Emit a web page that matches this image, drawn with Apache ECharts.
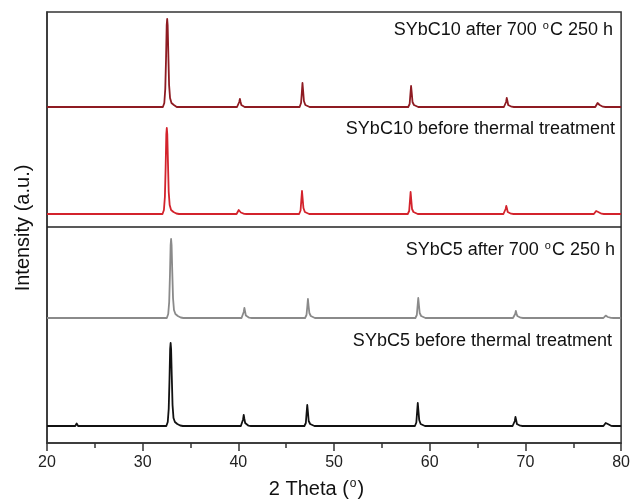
<!DOCTYPE html>
<html>
<head>
<meta charset="utf-8">
<script src="https://cdn.jsdelivr.net/npm/echarts@6/dist/echarts.min.js"></script>
<style>html,body{margin:0;padding:0;background:#fff}#c{width:633px;height:502px}</style>
</head>
<body>
<div id="c"></div>
<script>
// 2 Theta (deg) vs stacked intensity (a.u., offset included)
var xTicks = [20, 30, 40, 50, 60, 70, 80];
var seriesNames = ['SYbC10 after 700 °C 250 h', 'SYbC10 before thermal treatment', 'SYbC5 after 700 °C 250 h', 'SYbC5 before thermal treatment'];
var separatorLevel = 216;

var sybc10After = [[20,336],[21,336],[22.85,336],[23.0,337.5],[23.15,336],[23.4,336],[28,336],[31.8,336],
  [32.11,336],[32.26,340],[32.36,354],[32.44,384],[32.51,418],[32.56,424],[32.61,418],[32.68,389],[32.76,358],[32.86,345],[33.01,340],[33.26,338],[33.56,336],[33.8,336],[34.1,336],
  [34.5,336],[34.65,337],[34.8,336],[35.0,336],[35.3,336],[37,336],[39.6,336],
  [39.86,336],[40.01,337],[40.09,341],[40.16,344],[40.23,341],[40.31,338],[40.46,336.5],[40.66,336],[40.9,336],[41.2,336],[43,336],[46.1,336],
  [46.4,336],[46.55,340],[46.63,350],[46.7,360],[46.77,352],[46.85,342],[47.0,338],[47.2,336.5],[47.45,336],[47.7,336],[48.1,336],[50,336],[53,336],[57.5,336],
  [57.75,336],[57.9,339],[57.98,349],[58.05,357],[58.12,350],[58.2,341],[58.35,338],[58.55,336.5],[58.8,336],[59.1,336],[59.5,336],[63,336],[67.5,336],
  [67.75,336],[67.9,337.5],[67.98,341],[68.05,345],[68.12,342],[68.2,338],[68.35,337],[68.55,336.3],[68.8,336],[69.1,336],[69.5,336],[73,336],[77.0,336],
  [77.3,336],[77.45,337.5],[77.54,340],[77.6,342],[77.67,340.5],[77.76,338],[77.9,336.8],[78.1,336.3],[78.35,336],[78.7,336],[79.2,336],[80,336]];

var sybc10Before = [[20,229],[21,229],[22.85,229],[23.0,230.5],[23.15,229],[23.4,229],[28,229],[31.8,229],
  [32.07,229],[32.22,233],[32.32,246],[32.4,276],[32.47,309],[32.52,315],[32.57,309],[32.64,281],[32.72,251],[32.82,238],[32.97,233],[33.22,231],[33.52,229.5],[33.8,229],[34.1,229],[34.5,229],[37,229],[39.5,229],
  [39.81,229],[39.96,230],[40.04,233],[40.11,235],[40.18,233],[40.26,230.5],[40.41,229.5],[40.61,229.2],[40.85,229],[41.15,229],[41.6,229],[43,229],[46.05,229],
  [46.35,229],[46.5,232.5],[46.58,243],[46.65,252],[46.72,244],[46.8,235],[46.95,231],[47.15,229.5],[47.4,229],[47.65,229],[48.1,229],[50,229],[53,229],[57.4,229],
  [57.7,229],[57.85,232],[57.93,242],[58.0,251],[58.07,243],[58.15,234],[58.3,231],[58.5,229.5],[58.75,229],[59.05,229],[59.5,229],[63,229],[67.4,229],
  [67.7,229],[67.85,230.5],[67.93,234],[68.0,237],[68.07,234.5],[68.15,231],[68.3,230],[68.5,229.3],[68.75,229],[69.05,229],[69.5,229],[73,229],[76.85,229],
  [77.15,229],[77.3,230],[77.39,232],[77.45,234],[77.52,232.5],[77.61,231],[77.75,230],[77.95,229.3],[78.2,229],[78.5,229],[79.0,229],[80,229]];

var sybc5After = [[20,125],[21,125],[22.95,125],[23.1,127],[23.25,125],[23.5,125],[28,125],[32.2,125],
  [32.52,125],[32.67,129],[32.77,141],[32.85,168],[32.92,198],[32.97,204],[33.02,198],[33.09,172],[33.17,145],[33.27,133],[33.42,129],[33.67,127],[33.97,125.5],[34.25,125],[34.6,125],[37,125],[40.0,125],
  [40.33,125],[40.48,126.5],[40.56,131],[40.63,135],[40.7,131.5],[40.78,127.5],[40.93,126],[41.13,125.3],[41.4,125],[41.7,125],
  [42.3,125],[42.4,126],[42.5,125],[42.75,125],[44.5,125],[46.7,125],
  [46.97,125],[47.12,128],[47.2,136],[47.27,144],[47.34,137],[47.42,130],[47.57,127],[47.77,125.5],[48.0,125],[48.3,125],[48.8,125],[50,125],
  [53.3,125],[53.45,126.5],[53.6,125],[53.85,125],[56,125],[58.2,125],
  [58.5,125],[58.65,128],[58.73,137],[58.8,145],[58.87,138],[58.95,130],[59.1,127],[59.3,125.5],[59.55,125],[59.85,125],[60.3,125],[64,125],[68.4,125],
  [68.7,125],[68.85,126],[68.93,129],[69.0,132],[69.07,129.5],[69.15,127],[69.3,126],[69.5,125.3],[69.75,125],[70.05,125],[70.5,125],[74,125],[77.85,125],
  [78.15,125],[78.3,125.6],[78.39,127.4],[78.45,129],[78.52,127.6],[78.61,126],[78.75,125.3],[78.95,125.1],[79.2,125],[79.5,125],[80,125]];

var sybc5Before = [[20,17],[21,17],[22.95,17],[23.1,19.5],[23.25,17],[23.5,17],[28,17],[32.15,17],
  [32.47,17],[32.62,21],[32.72,34],[32.8,63],[32.87,94],[32.92,100],[32.97,94],[33.04,67],[33.12,38],[33.22,25],[33.37,21],[33.62,19],[33.92,17.5],[34.2,17],[34.55,17],[37,17],[40.0,17],
  [40.26,17],[40.41,18.7],[40.49,23.5],[40.56,28],[40.63,24],[40.71,20],[40.86,18],[41.06,17.3],[41.3,17],[41.6,17],
  [42.3,17],[42.4,18],[42.5,17],[42.75,17],[44.5,17],[46.6,17],
  [46.9,17],[47.05,20],[47.13,30],[47.2,38],[47.27,31],[47.35,22],[47.5,19],[47.7,17.5],[47.95,17],[48.25,17],[48.7,17],[50,17],
  [53.3,17],[53.45,18.5],[53.6,17],[53.85,17],[56,17],[58.15,17],
  [58.45,17],[58.6,20.5],[58.68,31],[58.75,40],[58.82,32],[58.9,23],[59.05,19],[59.25,17.5],[59.5,17],[59.8,17],[60.3,17],[64,17],[68.35,17],
  [68.66,17],[68.81,18.5],[68.89,22],[68.96,26],[69.03,23],[69.11,19],[69.26,18],[69.46,17.3],[69.7,17],[70.0,17],[70.5,17],[74,17],[77.85,17],
  [78.15,17],[78.3,18],[78.39,20],[78.45,22],[78.52,20.5],[78.61,19],[78.75,17.8],[78.95,17.2],[79.2,17],[79.5,17],[80,17]];

var FONT = 'Liberation Sans, Arial, Helvetica, sans-serif';
var chart = echarts.init(document.getElementById('c'), null, {renderer: 'canvas'});

function lineSeries(name, data, color) {
  return {
    name: name, type: 'line', data: data, showSymbol: false, symbol: 'none', smooth: false,
    lineStyle: {color: color, width: 1.8, join: 'round'}, silent: true, animation: false
  };
}

var supRich = {s: {fontSize: 11, fontFamily: FONT, color: '#111', verticalAlign: 'top', padding: [0, 1, 9, 1]}};

var s1 = lineSeries(seriesNames[0], sybc10After, '#8E1B22');
var s2 = lineSeries(seriesNames[1], sybc10Before, '#D3232C');
var s3 = lineSeries(seriesNames[2], sybc5After, '#8A8A8A');
var s4 = lineSeries(seriesNames[3], sybc5Before, '#111111');
s4.markLine = {
  silent: true, symbol: 'none', animation: false,
  label: {show: false},
  lineStyle: {color: '#222', width: 1.5, type: 'solid'},
  data: [{yAxis: separatorLevel}]
};

chart.setOption({
  animation: false,
  grid: {left: 47, right: 11, top: 12, bottom: 59, show: true, borderColor: '#333', borderWidth: 1.5, backgroundColor: 'transparent'},
  xAxis: {
    type: 'value', min: xTicks[0], max: xTicks[xTicks.length - 1], interval: 10,
    axisLine: {show: true, lineStyle: {color: '#333', width: 1.5}},
    axisTick: {show: true, inside: false, length: 8, lineStyle: {color: '#333', width: 1.5}},
    minorTick: {show: true, splitNumber: 2, length: 5, lineStyle: {color: '#333', width: 1.5}},
    splitLine: {show: false},
    axisLabel: {fontSize: 16, fontFamily: FONT, color: '#222', margin: 12}
  },
  yAxis: {
    type: 'value', min: 0, max: 431,
    axisLine: {show: true, lineStyle: {color: '#333', width: 1.5}},
    axisTick: {show: false}, axisLabel: {show: false}, splitLine: {show: false}
  },
  series: [s1, s2, s3, s4],
  graphic: [
    {type: 'text', left: 'center', top: 478, style: {text: '2 Theta ({s|o})', fontSize: 20, fontFamily: FONT, fill: '#111', rich: {s: {fontSize: 12, fontFamily: FONT, color: '#111', verticalAlign: 'top', padding: [0, 1, 10, 1]}}}},
    {type: 'text', x: 23, y: 228, rotation: Math.PI / 2, style: {text: 'Intensity (a.u.)', fontSize: 20, fontFamily: FONT, fill: '#111', align: 'center', verticalAlign: 'middle'}},
    {type: 'text', right: 20, top: 20, style: {text: 'SYbC10 after 700 {s|o}C 250 h', fontSize: 18, fontFamily: FONT, fill: '#111', rich: supRich}},
    {type: 'text', right: 18, top: 120, style: {text: 'SYbC10 before thermal treatment', fontSize: 18, fontFamily: FONT, fill: '#111'}},
    {type: 'text', right: 18, top: 240, style: {text: 'SYbC5 after 700 {s|o}C 250 h', fontSize: 18, fontFamily: FONT, fill: '#111', rich: supRich}},
    {type: 'text', right: 21, top: 332, style: {text: 'SYbC5 before thermal treatment', fontSize: 18, fontFamily: FONT, fill: '#111'}}
  ]
});
</script>
</body>
</html>
